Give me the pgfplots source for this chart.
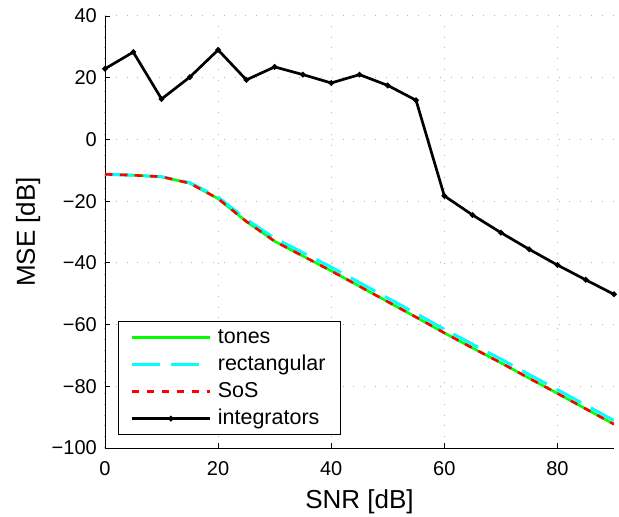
\documentclass[border=0pt]{standalone}
\usepackage{pgfplots}
\pgfplotsset{compat=1.18}
\usepackage{fontspec}
\setmainfont{Liberation Sans}
\begin{document}
\begin{tikzpicture}
\path (-105pt,-64pt) rectangle (514pt,448pt);
\begin{axis}[
  at={(0pt,0pt)}, anchor=south west,
  scale only axis, width=509pt, height=432pt,
  xmin=0, xmax=90, ymin=-100, ymax=40,
  axis lines*=left,
  axis line style={line width=0.8pt, black},
  xtick={0,20,40,60,80},
  ytick={-100,-80,-60,-40,-20,0,20,40},
  yticklabels={−100,−80,−60,−40,−20,0,20,40},
  tick align=inside, major tick length=5pt,
  tick style={line width=0.8pt, black},
  grid=major,
  major grid style={gray!60, line width=1pt, dash pattern=on 1pt off 9.8pt},
  /pgf/number format/assume math mode=true,
  ticklabel style={font=\fontsize{20}{24}\selectfont},
  yticklabel style={anchor=east, inner sep=0pt, xshift=-8pt},
  xticklabel style={anchor=north, inner sep=0pt, yshift=-13.5pt},
  xlabel={SNR [dB]}, ylabel={MSE [dB]},
  every axis x label/.style={at={([yshift=-60pt]axis description cs:0.5,0)}, anchor=base, font=\fontsize{26}{30}\selectfont},
  every axis y label/.style={at={([xshift=-70pt]axis description cs:0,0.5)}, rotate=90, anchor=base, font=\fontsize{26}{30}\selectfont},
  legend image code/.code={\draw[mark repeat=2,mark phase=2,#1] plot coordinates {(0pt,0pt) (39pt,0pt) (78pt,0pt)};},
  legend style={at={(axis description cs:0.0255,0.030)}, anchor=south west,
    draw=black, line width=0.8pt, font=\fontsize{21.5}{25}\selectfont,
    inner xsep=12pt, inner ysep=4pt, row sep=3pt,
    nodes={inner sep=2.5pt, text height=15pt, text depth=4pt},
    /tikz/every odd column/.append style={column sep=4pt}},
  legend cell align=left,
]
\addplot[color={rgb,1:red,0;green,1;blue,0}, line width=2.6pt] coordinates {
(0,-11.3) (5,-11.6) (10,-12.1) (15,-14.2) (20,-19.2) (25,-26.6) (30,-33.0) (35,-37.8) (40,-42.6) (45,-47.6) (50,-52.6) (55,-57.6) (60,-62.7) (65,-67.6) (70,-72.4) (75,-77.4) (80,-82.3) (85,-87.3) (90,-92.3)};
\addlegendentry{tones}
\addplot[color={rgb,1:red,0;green,1;blue,1}, line width=3pt, dash pattern=on 28pt off 11pt] coordinates {
(0,-11.3) (5,-11.6) (10,-12.1) (15,-14.0) (20,-18.7) (25,-25.9) (30,-32.0) (35,-36.7) (40,-41.4) (45,-46.4) (50,-51.4) (55,-56.4) (60,-61.5) (65,-66.4) (70,-71.2) (75,-76.2) (80,-81.1) (85,-86.1) (90,-91.1)};
\addlegendentry{rectangular}
\addplot[color={rgb,1:red,1;green,0;blue,0}, line width=2.6pt, dash pattern=on 7.5pt off 7.5pt] coordinates {
(0,-11.3) (5,-11.6) (10,-12.1) (15,-14.2) (20,-19.2) (25,-26.6) (30,-33.0) (35,-37.8) (40,-42.6) (45,-47.6) (50,-52.6) (55,-57.6) (60,-62.7) (65,-67.6) (70,-72.4) (75,-77.4) (80,-82.3) (85,-87.3) (90,-92.3)};
\addlegendentry{SoS}
\addplot[color=black, line width=2.7pt, mark=*, mark size=1.2pt] coordinates {
(0,22.9) (5,28.3) (10,13.1) (15,20.2) (20,29.0) (25,19.3) (30,23.5) (35,21.0) (40,18.3) (45,21.0) (50,17.5) (55,12.7) (60,-18.3) (65,-24.5) (70,-30.2) (75,-35.6) (80,-40.7) (85,-45.5) (90,-50.2)};
\addlegendentry{integrators}
\end{axis}
\end{tikzpicture}
\end{document}
